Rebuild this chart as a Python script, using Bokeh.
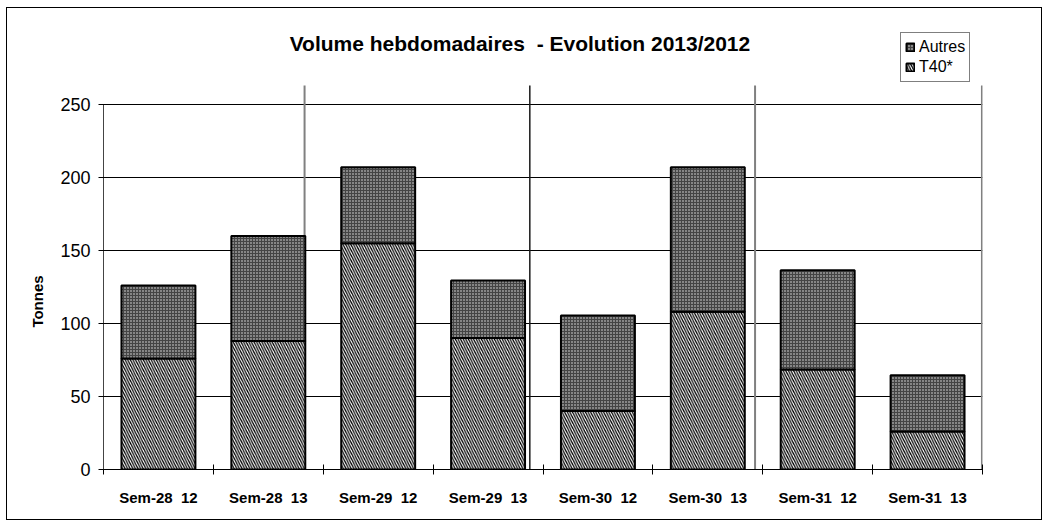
from bokeh.plotting import figure
from bokeh.models import (Range1d, FixedTicker, Label, Legend, LegendItem,
                          ColumnDataSource)
from bokeh.embed import file_html
from bokeh.resources import INLINE

# ---- data ----
categories = ["Sem-28\u00a0\u00a012", "Sem-28\u00a0\u00a013", "Sem-29\u00a0\u00a012", "Sem-29\u00a0\u00a013",
              "Sem-30\u00a0\u00a012", "Sem-30\u00a0\u00a013", "Sem-31\u00a0\u00a012", "Sem-31\u00a0\u00a013"]
t40 = [76, 88, 155, 90, 40, 108, 68.5, 26]
autres = [50, 72, 52, 39.5, 65.5, 99, 68, 38.5]
y_ticks = [0, 50, 100, 150, 200, 250]
title_text = "Volume hebdomadaires\u00a0\u00a0- Evolution 2013/2012"
y_label = "Tonnes"
series_names = ["T40*", "Autres"]

FONT = "Liberation Sans"

n = len(categories)
xc = [i + 0.5 for i in range(n)]
source = ColumnDataSource(dict(x=xc, t40=t40, autres=autres))

p = figure(width=1036, height=513, output_backend="svg", toolbar_location=None,
           x_range=Range1d(0, n), y_range=Range1d(0, 315.75),
           min_border_left=96, min_border_right=61, min_border_top=0,
           min_border_bottom=52)
p.styles = {"border": "1px solid black", "margin-left": "6px", "margin-top": "7px"}
p.outline_line_color = None
p.background_fill_color = "white"

# grid
p.xgrid.visible = False
p.ygrid.ticker = FixedTicker(ticks=y_ticks[1:])
p.ygrid.grid_line_color = "black"
p.ygrid.grid_line_width = 1

# separators between weeks
sep = ColumnDataSource(dict(x=[1.83, 5.93, 7.995], y0=[0, 0, 0], y1=[263, 263, 263]))
p.segment(x0="x", x1="x", y0="y0", y1="y1", source=sep, line_color="#808080", line_width=2)
p.segment(x0=[3.88], x1=[3.88], y0=[0], y1=[263], line_color="#1a1a1a", line_width=1.5)

# bars
rs = p.vbar_stack(["t40", "autres"], x="x", width=0.673, source=source,
                  fill_color=["white", "#868686"],
                  hatch_pattern=["\\", "+"],
                  hatch_color=["black", "#444444"],
                  hatch_scale=[5.2, 3.0],
                  hatch_weight=[1.25, 1.0],
                  line_color="black", line_width=2)

# y axis
p.yaxis.ticker = FixedTicker(ticks=y_ticks)
p.yaxis.bounds = (0, 250)
p.yaxis.major_tick_in = 5
p.yaxis.major_tick_out = 5
p.yaxis.minor_tick_line_color = None
p.yaxis.axis_line_color = "#444444"
p.yaxis.major_label_text_font = FONT
p.yaxis.major_label_text_font_size = "18px"
p.yaxis.major_label_text_color = "black"
p.yaxis.major_label_standoff = 8
# trailing no-break spaces shift the centred, rotated label down to where the reference has it
p.yaxis.axis_label = y_label + "\u00a0" * 30
p.yaxis.axis_label_text_font = FONT
p.yaxis.axis_label_text_font_size = "15px"
p.yaxis.axis_label_text_font_style = "bold"
p.yaxis.axis_label_text_color = "black"
p.yaxis.axis_label_standoff = 11

# x axis
p.xaxis.ticker = FixedTicker(ticks=xc, minor_ticks=list(range(n + 1)))
p.xaxis.major_label_overrides = {x: c for x, c in zip(xc, categories)}
p.xaxis.major_tick_line_color = None
p.xaxis.major_tick_out = 0
p.xaxis.major_tick_in = 0
p.xaxis.minor_tick_in = 5
p.xaxis.minor_tick_out = 5
p.xaxis.minor_tick_line_color = "black"
p.xaxis.axis_line_color = "black"
p.xaxis.major_label_text_font = FONT
p.xaxis.major_label_text_font_size = "15px"
p.xaxis.major_label_text_font_style = "bold"
p.xaxis.major_label_text_color = "black"
p.xaxis.major_label_standoff = 14

# title
p.add_layout(Label(x=3.79, y=292, text=title_text, text_font=FONT,
                   text_font_size="21px", text_font_style="bold",
                   text_align="center", text_baseline="middle", text_color="black"))

# legend
legend = Legend(items=[LegendItem(label=series_names[1], renderers=[rs[1]]),
                       LegendItem(label=series_names[0], renderers=[rs[0]])],
                location=(797, 387), orientation="vertical",
                label_text_font=FONT, label_text_font_size="16px",
                label_text_color="black", label_height=20,
                glyph_width=10, glyph_height=10, label_standoff=4,
                spacing=0, padding=4, margin=0,
                border_line_color="black", border_line_width=1,
                background_fill_alpha=1)
p.add_layout(legend)

open("out.html", "w").write(file_html(p, INLINE))
